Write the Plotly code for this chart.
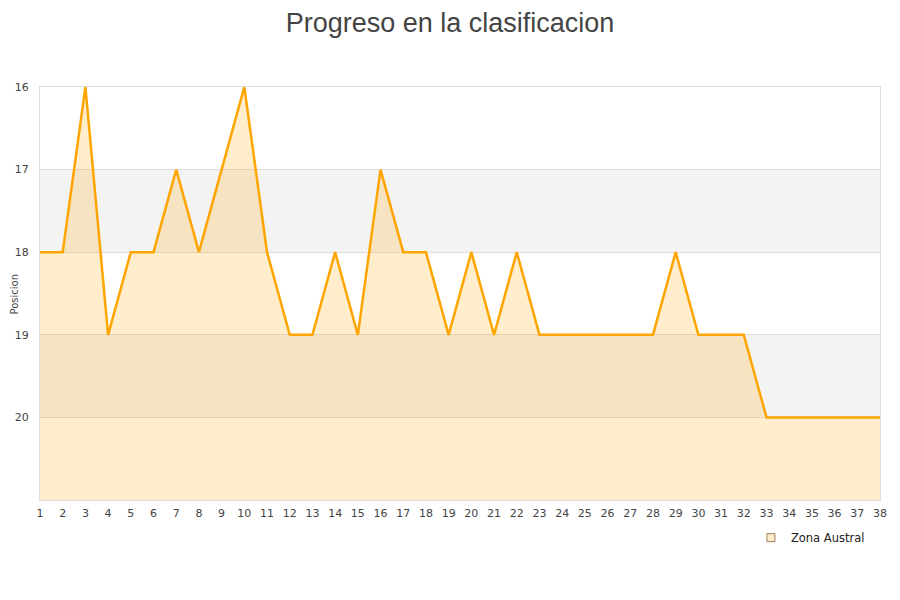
import plotly.graph_objects as go

jornadas = list(range(1, 39))
posicion = [18, 18, 16, 19, 18, 18, 17, 18, 17, 16,
            18, 19, 19, 18, 19, 17, 18, 18, 19, 18,
            19, 18, 19, 19, 19, 19, 19, 19, 18, 19,
            19, 19, 20, 20, 20, 20, 20, 20]
equipo = "Zona Austral"
y_ticks = [16, 17, 18, 19, 20]
y_min, y_max = 16, 21

fig = go.Figure()

# bands
for y0, y1 in [(17, 18), (19, 20)]:
    fig.add_shape(type="rect", xref="paper", yref="y", x0=0, x1=1, y0=y0, y1=y1,
                  fillcolor="#f3f3f3", line_width=0, layer="below")

fig.add_trace(go.Scatter(x=jornadas, y=[y_max] * len(jornadas), mode="lines",
                         line=dict(width=0, color="rgba(0,0,0,0)"),
                         showlegend=False, hoverinfo="skip"))
fig.add_trace(go.Scatter(x=jornadas, y=posicion, mode="lines", fill="tonexty",
                         fillcolor="rgba(255,165,0,0.2)",
                         line=dict(color="#FFA500", width=2.5),
                         showlegend=False, name=equipo))
fig.add_trace(go.Scatter(x=[None], y=[None], mode="markers", name=equipo,
                         marker=dict(symbol="square", size=8, color="#FFEBC8",
                                     line=dict(color="#9a8060", width=1))))

fig.add_annotation(text="Posicion", xref="paper", yref="paper", x=-0.0298, y=0.5,
                   xanchor="center", yanchor="middle", textangle=-90, showarrow=False,
                   font=dict(size=10, color="#444"))

fig.update_layout(
    width=892, height=592,
    margin=dict(l=32, r=20, t=79, b=100, autoexpand=False),
    paper_bgcolor="white", plot_bgcolor="white",
    title=dict(text="Progreso en la clasificacion", x=0.4955, xanchor="center",
               y=0.976, yanchor="middle", automargin=False,
               font=dict(family="Liberation Sans, Arial", size=27, color="#444")),
    font=dict(family="DejaVu Sans", size=11, color="#444"),
    showlegend=True,
    legend=dict(x=0.988, xanchor="right", y=-0.056, yanchor="top",
                bgcolor="white", font=dict(size=11.5, color="#222"),
                itemwidth=30, tracegroupgap=0),
)
fig.update_xaxes(range=[1, 38], tickmode="linear", tick0=1, dtick=1, automargin=False,
                 showgrid=False, zeroline=False, showline=True, linecolor="#ddd",
                 mirror=True, ticks="", ticklabelstandoff=3,
                 tickfont=dict(size=11, color="#444"))
fig.update_yaxes(range=[y_max, y_min], tickvals=y_ticks, showgrid=True, automargin=False,
                 gridcolor="#ddd", zeroline=False, showline=True, linecolor="#ddd",
                 mirror=True, ticks="", ticklabelstandoff=8,
                 tickfont=dict(size=11, color="#444"))

fig.write_html("out.html")
